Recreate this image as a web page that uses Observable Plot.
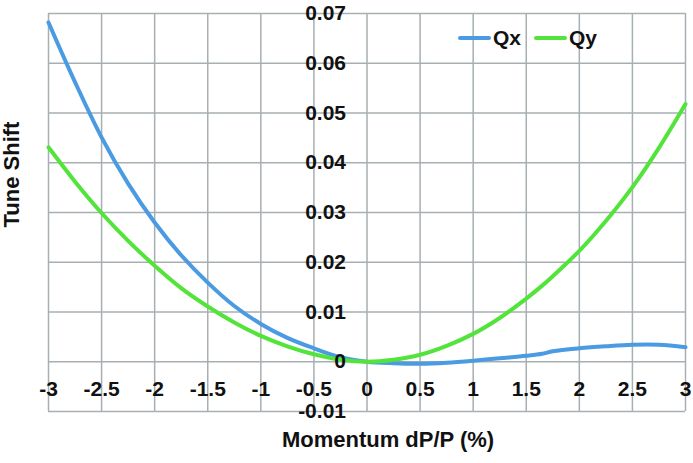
<!DOCTYPE html>
<html>
<head>
<meta charset="utf-8">
<script src="https://cdn.jsdelivr.net/npm/d3@7"></script>
<script src="https://cdn.jsdelivr.net/npm/@observablehq/plot@0.6"></script>
<style>
  html, body { margin: 0; padding: 0; background: #fff; }
  #wrap { position: relative; width: 693px; height: 463px; font-family: "Liberation Sans", Arial, sans-serif; }
  #legend { position: absolute; left: 458px; top: 26px; display: flex; align-items: center; font-weight: bold; font-size: 21px; color: #111; }
  #legend .sw { display: inline-block; width: 33px; height: 4px; border-radius: 2px; margin-right: 2px; }
  #legend .item { display: flex; align-items: center; margin-right: 13px; }
</style>
</head>
<body>
<div id="wrap"><div id="legend"></div></div>
<script>
const momentum = [-3, -2.75, -2.5, -2.25, -2, -1.75, -1.5, -1.25, -1, -0.75, -0.5, -0.25, 0, 0.25, 0.5, 0.75, 1, 1.25, 1.5, 1.65, 1.75, 2, 2.25, 2.5, 2.75, 3];
const qx = [0.0682, 0.0562, 0.0451, 0.0358, 0.0280, 0.0214, 0.0159, 0.0112, 0.0076, 0.0048, 0.0027, 0.0009, 0, -0.0003, -0.0004, -0.0002, 0.0002, 0.0007, 0.0012, 0.0016, 0.0021, 0.0027, 0.0031, 0.0034, 0.0034, 0.0029];
const qy = [0.0431, 0.0362, 0.0299, 0.0243, 0.0193, 0.0148, 0.0111, 0.0079, 0.0052, 0.0031, 0.0015, 0.0004, 0, 0.0004, 0.0014, 0.0032, 0.0056, 0.0088, 0.0127, 0.0153, 0.0172, 0.0223, 0.0283, 0.0351, 0.0430, 0.0518];
const seriesNames = ["Qx", "Qy"];
const seriesColors = ["#4a9be2", "#52e43a"];
const xTicks = [-3, -2.5, -2, -1.5, -1, -0.5, 0, 0.5, 1, 1.5, 2, 2.5, 3];
const xTickLabels = ["-3", "-2.5", "-2", "-1.5", "-1", "-0.5", "0", "0.5", "1", "1.5", "2", "2.5", "3"];
const yTicks = [-0.01, 0, 0.01, 0.02, 0.03, 0.04, 0.05, 0.06, 0.07];
const yTickLabels = ["-0.01", "0", "0.01", "0.02", "0.03", "0.04", "0.05", "0.06", "0.07"];
const xTitle = "Momentum dP/P (%)";
const yTitle = "Tune Shift";

const rows = [];
momentum.forEach((m, i) => {
  rows.push({m, v: qx[i], s: "Qx"});
  rows.push({m, v: qy[i], s: "Qy"});
});
const xLab = new Map(xTicks.map((t, i) => [t, xTickLabels[i]]));
const yLab = new Map(yTicks.map((t, i) => [t, yTickLabels[i]]));

const chart = Plot.plot({
  width: 693,
  height: 463,
  marginLeft: 48,
  marginRight: 8,
  marginTop: 13,
  marginBottom: 52,
  style: {fontFamily: "'Liberation Sans', Arial, sans-serif", fontWeight: "bold", fontSize: "21px", color: "#111", background: "transparent"},
  x: {domain: [-3, 3], axis: null},
  y: {domain: [-0.01, 0.07], axis: null},
  color: {domain: seriesNames, range: seriesColors},
  marks: [
    Plot.gridX(xTicks, {stroke: "#a7afb2", strokeOpacity: 1, strokeWidth: 1.5}),
    Plot.gridY(yTicks, {stroke: "#a7afb2", strokeOpacity: 1, strokeWidth: 1.5}),
    Plot.line(rows, {x: "m", y: "v", z: "s", stroke: "s", strokeWidth: 4, curve: "catmull-rom"}),
    Plot.axisX(xTicks, {anchor: "bottom", tickSize: 0, tickPadding: 0, dy: -30, tickFormat: d => xLab.get(d), fontSize: 21, fontWeight: "bold", label: null, fill: "#111"}),
    Plot.text(yTicks, {x: () => 0, y: d => d, text: d => yLab.get(d), textAnchor: "end", dx: -21, fontSize: 21, fontWeight: "bold", fill: "#111"}),
    Plot.text([xTitle], {frameAnchor: "bottom", dx: 21, dy: 35, fontSize: 22, fontWeight: "bold", fill: "#111"}),
    Plot.text([yTitle], {frameAnchor: "left", rotate: -90, dx: -37, dy: 15, fontSize: 22, fontWeight: "bold", fill: "#111"})
  ]
});
chart.style.position = "absolute";
chart.style.left = "0";
chart.style.top = "0";
const wrap = document.getElementById("wrap");
wrap.insertBefore(chart, wrap.firstChild);

const legend = document.getElementById("legend");
seriesNames.forEach((n, i) => {
  const it = document.createElement("span");
  it.className = "item";
  const sw = document.createElement("span");
  sw.className = "sw";
  sw.style.background = seriesColors[i];
  it.appendChild(sw);
  it.appendChild(document.createTextNode(n));
  legend.appendChild(it);
});
</script>
</body>
</html>
